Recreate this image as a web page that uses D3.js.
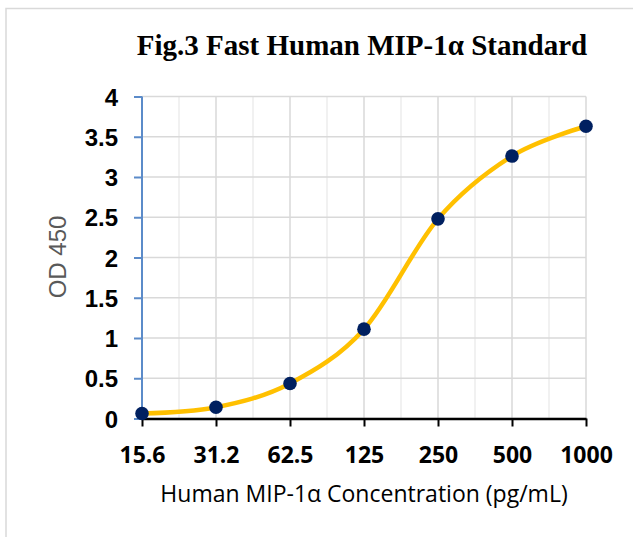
<!DOCTYPE html>
<html>
<head>
<meta charset="utf-8">
<script src="https://cdn.jsdelivr.net/npm/d3@7"></script>
<style>
  body { margin: 0; background: #fff; }
  svg { display: block; }
</style>
</head>
<body>
<div id="chart"></div>
<script>
// standard curve data
var concLabels = ["15.6", "31.2", "62.5", "125", "250", "500", "1000"];
var odValues = [0.062, 0.14, 0.435, 1.11, 2.48, 3.26, 3.63];
var yTicks = [0, 0.5, 1, 1.5, 2, 2.5, 3, 3.5, 4];

var svgWidth = 633;
var svgHeight = 537;

var svg = d3.select("#chart")
  .append("svg")
  .attr("width", svgWidth)
  .attr("height", svgHeight);

// outer frame (only top and left edges show in the crop)
svg.append("path")
  .attr("d", "M6,537 V8.5 H640")
  .attr("fill", "none")
  .attr("stroke", "#d9d9d9")
  .attr("stroke-width", 1.5);

var xScale = d3.scalePoint()
  .domain(concLabels)
  .range([142, 586]);

var yScale = d3.scaleLinear()
  .domain([0, 4])
  .range([418.5, 96.5]);

var chart = svg.append("g");

// minor vertical gridlines halfway between categories
var step = xScale.step();
var midPoints = concLabels.slice(1).map(function(d) { return xScale(d) - step / 2; });

chart.append("g")
  .selectAll("line")
  .data(midPoints)
  .enter()
  .append("line")
  .attr("x1", function(d) { return d; })
  .attr("x2", function(d) { return d; })
  .attr("y1", yScale(0))
  .attr("y2", yScale(4))
  .attr("stroke", "#ededed")
  .attr("stroke-width", 1.5);

// major vertical gridlines
chart.append("g")
  .selectAll("line")
  .data(concLabels)
  .enter()
  .append("line")
  .attr("x1", function(d) { return xScale(d); })
  .attr("x2", function(d) { return xScale(d); })
  .attr("y1", yScale(0))
  .attr("y2", yScale(4))
  .attr("stroke", "#d9d9d9")
  .attr("stroke-width", 1.5);

// horizontal gridlines
chart.append("g")
  .selectAll("line")
  .data(yTicks)
  .enter()
  .append("line")
  .attr("x1", xScale.range()[0])
  .attr("x2", xScale.range()[1])
  .attr("y1", function(d) { return yScale(d); })
  .attr("y2", function(d) { return yScale(d); })
  .attr("stroke", "#d9d9d9")
  .attr("stroke-width", 1.5);

// y axis (blue)
var leftAxis = d3.axisLeft(yScale)
  .tickValues(yTicks)
  .tickSize(8)
  .tickPadding(16)
  .tickFormat(function(d) { return String(d); });

var yAxisG = chart.append("g")
  .attr("class", "y-axis")
  .attr("transform", "translate(" + xScale.range()[0] + ",0)")
  .call(leftAxis);

yAxisG.select(".domain").remove();
yAxisG.append("line")
  .attr("x1", 0).attr("x2", 0)
  .attr("y1", yScale(4)).attr("y2", yScale(0))
  .attr("stroke", "#5b8bc9")
  .attr("stroke-width", 2);
yAxisG.selectAll(".tick line")
  .attr("stroke", "#5b8bc9")
  .attr("stroke-width", 2);
yAxisG.selectAll(".tick text")
  .attr("fill", "#000")
  .style("font-family", "'Liberation Sans', Arial, sans-serif")
  .style("font-weight", "bold")
  .style("font-size", "24px")
  .attr("dy", "0.36em");

// x axis (black)
var bottomAxis = d3.axisBottom(xScale)
  .tickSize(8)
  .tickSizeOuter(0)
  .tickPadding(20);

var xAxisG = chart.append("g")
  .attr("class", "x-axis")
  .attr("transform", "translate(0," + yScale(0) + ")")
  .call(bottomAxis);

xAxisG.select(".domain")
  .attr("stroke", "#000")
  .attr("stroke-width", 2.5);
xAxisG.selectAll(".tick line")
  .attr("stroke", "#000")
  .attr("stroke-width", 2);
xAxisG.selectAll(".tick text")
  .attr("fill", "#000")
  .style("font-family", "'Open Sans', sans-serif")
  .style("font-weight", "bold")
  .style("font-size", "23px");

// smoothed curve through the standards
var line = d3.line()
  .x(function(d, i) { return xScale(concLabels[i]); })
  .y(function(d) { return yScale(d); })
  .curve(d3.curveCardinal.tension(0));

chart.append("path")
  .datum(odValues)
  .attr("d", line)
  .attr("fill", "none")
  .attr("stroke", "#ffc000")
  .attr("stroke-width", 4.5)
  .attr("stroke-linecap", "round");

chart.selectAll("circle")
  .data(odValues)
  .enter()
  .append("circle")
  .attr("cx", function(d, i) { return xScale(concLabels[i]); })
  .attr("cy", function(d) { return yScale(d); })
  .attr("r", 6.8)
  .attr("fill", "#002060");

// title
svg.append("text")
  .attr("x", 362)
  .attr("y", 55)
  .attr("text-anchor", "middle")
  .style("font-family", "'Liberation Serif', 'Times New Roman', serif")
  .style("font-weight", "bold")
  .style("font-size", "29px")
  .text("Fig.3 Fast Human MIP-1α Standard");

// axis titles
svg.append("text")
  .attr("x", 364)
  .attr("y", 502)
  .attr("text-anchor", "middle")
  .attr("fill", "#000")
  .style("font-family", "'Open Sans', sans-serif")
  .style("font-size", "23px")
  .text("Human MIP-1α Concentration (pg/mL)");

svg.append("text")
  .attr("transform", "translate(66,257) rotate(-90)")
  .attr("text-anchor", "middle")
  .attr("fill", "#595959")
  .style("font-family", "'Liberation Sans', Arial, sans-serif")
  .style("font-size", "24px")
  .text("OD 450");
</script>
</body>
</html>
